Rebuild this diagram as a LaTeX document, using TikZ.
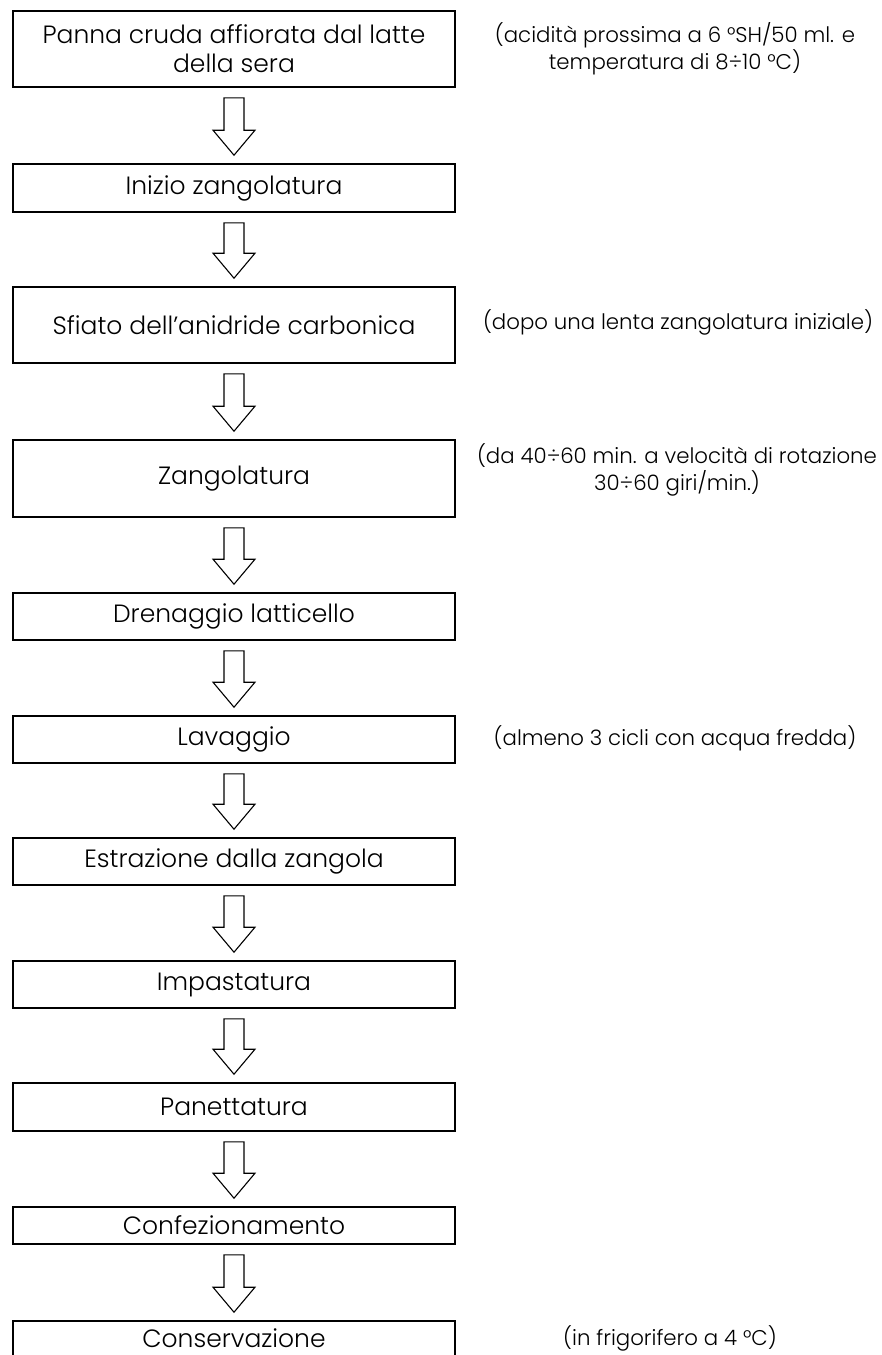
\documentclass[tikz,border=0pt]{standalone}
\usepackage{fontspec}
\setmainfont{Poppins}[UprightFont=* Light]
\usetikzlibrary{calc}
\tikzset{
  stepbox/.style={draw=black, line width=1.6pt, minimum width=442pt, inner sep=0pt, align=center, font=\fontsize{25}{29}\selectfont},
  sidenote/.style={align=center, inner sep=0pt, font=\fontsize{21.3}{27}\selectfont},
  blockarr/.style={draw=black, line width=1.1pt, fill=white, line join=miter}
}
\newcommand{\blockarrow}[2]{%
  \draw[blockarr] ($(#1.south)+(-10,10)$) -- ($(#1.south)+(10,10)$)
    -- ($(#2.north)+(10,-33)$) -- ($(#2.north)+(21,-33)$)
    -- ($(#2.north)+(0,-8)$)
    -- ($(#2.north)+(-21,-33)$) -- ($(#2.north)+(-10,-33)$) -- cycle;}
\begin{document}
\begin{tikzpicture}[x=1pt,y=-1pt]
\useasboundingbox (0,0) rectangle (882,1355);
\clip (0,0) rectangle (882,1355);
\fill[white] (0,0) rectangle (882,1355);
\node[stepbox, minimum height=76pt] (b1) at (234,49) {Panna cruda affiorata dal latte\\della sera};
\node[stepbox, minimum height=48pt] (b2) at (234,188) {Inizio zangolatura};
\node[stepbox, minimum height=76pt] (b3) at (234,325) {Sfiato dell’anidride carbonica};
\node[stepbox, minimum height=77pt] (b4) at (234,478.5) {Zangolatura};
\node[stepbox, minimum height=47pt] (b5) at (234,616.5) {Drenaggio latticello};
\node[stepbox, minimum height=47pt] (b6) at (234,739.5) {Lavaggio};
\node[stepbox, minimum height=47pt] (b7) at (234,861.5) {Estrazione dalla zangola};
\node[stepbox, minimum height=47pt] (b8) at (234,984.5) {Impastatura};
\node[stepbox, minimum height=48pt] (b9) at (234,1107) {Panettatura};
\node[stepbox, minimum height=37pt] (b10) at (234,1225.5) {Confezionamento};
\node[stepbox, minimum height=40pt, text depth=6pt] (b11) at (234,1341) {Conservazione};
\blockarrow{b1}{b2}
\blockarrow{b2}{b3}
\blockarrow{b3}{b4}
\blockarrow{b4}{b5}
\blockarrow{b5}{b6}
\blockarrow{b6}{b7}
\blockarrow{b7}{b8}
\blockarrow{b8}{b9}
\blockarrow{b9}{b10}
\blockarrow{b10}{b11}
\node[sidenote] (n1) at (675,49) {(acidità prossima a 6 °SH/50 ml. e\\temperatura di 8÷10 °C)};
\node[sidenote] (n3) at (678,322) {(dopo una lenta zangolatura iniziale)};
\node[sidenote] (n4) at (677,470) {(da 40÷60 min. a velocità di rotazione\\30÷60 giri/min.)};
\node[sidenote] (n6) at (675,738) {(almeno 3 cicli con acqua fredda)};
\node[sidenote] (n11) at (670,1338) {(in frigorifero a 4 °C)};
\end{tikzpicture}
\end{document}
